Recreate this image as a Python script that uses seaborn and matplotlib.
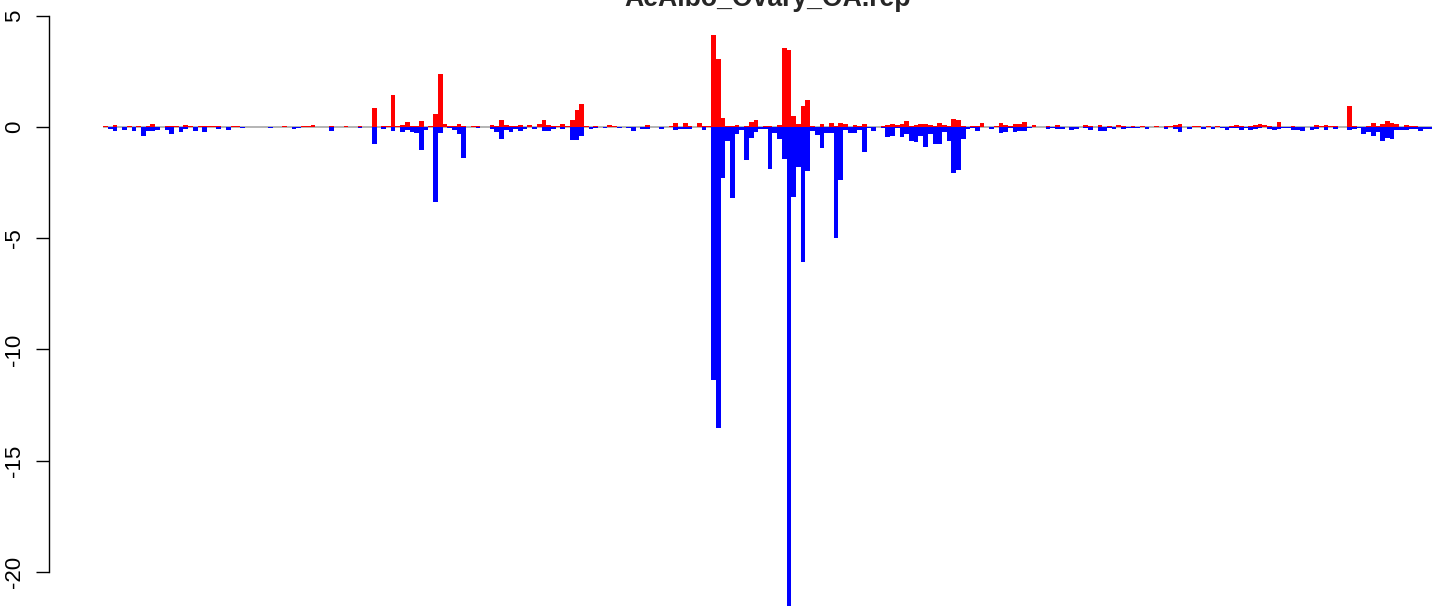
import numpy as np
import pandas as pd
import matplotlib
matplotlib.use("Agg")
import matplotlib.pyplot as plt
import seaborn as sns

# sense (red, plotted up) and antisense (blue, plotted down) per bin
sense = [
    0.03, 0, 0.09, 0, 0, 0.03, 0, 0.03, 0, 0.03,
    0.14, 0, 0, 0.03, 0.03, 0.03, 0, 0.09, 0.03, 0,
    0.03, 0.03, 0.03, 0.06, 0.06, 0, 0.02, 0.03, 0.03, 0,
    0, 0, 0.02, 0.02, 0, 0, 0, 0, 0.05, 0,
    0, 0.02, 0.03, 0.03, 0.08, 0, 0, 0, 0.05, 0,
    0, 0.05, 0, 0, 0.05, 0, 0, 0.85, 0, 0.03,
    0.03, 1.44, 0.03, 0.09, 0.22, 0.03, 0.05, 0.27, 0, 0.05,
    0.58, 2.38, 0.13, 0.03, 0.03, 0.13, 0.03, 0, 0.05, 0.05,
    0, 0, 0.07, 0.03, 0.31, 0.09, 0.05, 0.05, 0.09, 0,
    0.09, 0, 0.13, 0.31, 0.10, 0.03, 0.03, 0.14, 0.03, 0.31,
    0.76, 1.03, 0.03, 0.02, 0.03, 0.02, 0, 0.09, 0.03, 0,
    0, 0, 0.02, 0.02, 0, 0.09, 0, 0, 0, 0,
    0.03, 0.18, 0, 0.18, 0.03, 0, 0.18, 0.03, 0.03, 4.14,
    3.06, 0.40, 0.03, 0.03, 0.09, 0, 0.03, 0.22, 0.31, 0,
    0.03, 0.03, 0, 0.10, 3.54, 3.45, 0.50, 0.15, 0.96, 1.20,
    0.05, 0.02, 0.12, 0.02, 0.20, 0.05, 0.20, 0.15, 0.02, 0.07,
    0.03, 0.15, 0.02, 0, 0, 0.03, 0.09, 0.14, 0.09, 0.14,
    0.27, 0.05, 0.09, 0.14, 0.14, 0.09, 0.05, 0.18, 0.09, 0.05,
    0.36, 0.31, 0.05, 0, 0.03, 0.03, 0.18, 0, 0, 0.03,
    0.18, 0.09, 0.05, 0.14, 0.14, 0.22, 0, 0.09, 0, 0,
    0.03, 0, 0.09, 0, 0, 0, 0, 0, 0.09, 0.03,
    0.02, 0.09, 0, 0.04, 0, 0.09, 0.03, 0, 0.05, 0,
    0.05, 0, 0, 0.05, 0, 0.03, 0.03, 0.09, 0.14, 0,
    0, 0.03, 0.03, 0, 0.03, 0, 0.03, 0, 0, 0.05,
    0.09, 0.05, 0, 0.05, 0.09, 0.14, 0.09, 0.05, 0, 0.22,
    0, 0, 0.05, 0, 0, 0, 0, 0.09, 0.03, 0.09,
    0.05, 0.03, 0.02, 0, 0.94, 0.03, 0, 0, 0.03, 0.18,
    0.03, 0.14, 0.27, 0.18, 0.14, 0, 0.09, 0.03, 0.03, 0,
    0, 0,
]

antisense = [
    0, 0.07, 0.17, 0.02, 0.12, 0, 0.17, 0, 0.39, 0.17,
    0.17, 0.12, 0.02, 0.12, 0.30, 0, 0.21, 0.07, 0, 0.17,
    0, 0.21, 0, 0, 0.07, 0, 0.12, 0, 0, 0.03,
    0, 0, 0, 0, 0, 0.03, 0, 0, 0, 0,
    0.07, 0.03, 0, 0, 0, 0, 0, 0, 0.16, 0,
    0, 0, 0, 0, 0.03, 0, 0, 0.75, 0.02, 0.09,
    0, 0.16, 0, 0.21, 0.13, 0.21, 0.25, 1.03, 0.13, 0,
    3.37, 0.27, 0, 0.03, 0.13, 0.31, 1.39, 0, 0, 0.03,
    0, 0, 0.09, 0.22, 0.54, 0.13, 0.22, 0.07, 0.18, 0.07,
    0, 0.09, 0, 0.18, 0.18, 0.07, 0, 0.07, 0, 0.57,
    0.57, 0.39, 0, 0.07, 0.03, 0, 0.05, 0, 0, 0.05,
    0, 0.03, 0.16, 0, 0.07, 0.07, 0, 0, 0.08, 0,
    0, 0.13, 0.07, 0.07, 0.07, 0, 0, 0.13, 0, 11.38,
    13.54, 2.29, 0.63, 3.19, 0.31, 0.13, 1.48, 0.49, 0.22, 0.07,
    0.07, 1.89, 0.25, 0.56, 1.46, 21.6, 3.13, 1.82, 6.05, 2.00,
    0.20, 0.34, 0.96, 0.25, 0.27, 4.99, 2.40, 0.13, 0.27, 0.27,
    0.13, 1.13, 0.05, 0.20, 0, 0.05, 0.45, 0.39, 0.03, 0.45,
    0.30, 0.61, 0.66, 0.39, 0.88, 0.30, 0.75, 0.75, 0.21, 0.61,
    2.05, 1.92, 0.52, 0.07, 0.03, 0.16, 0, 0, 0.07, 0,
    0.25, 0.21, 0.03, 0.21, 0.16, 0.16, 0.03, 0, 0, 0,
    0.07, 0.03, 0.07, 0.07, 0, 0.12, 0.07, 0, 0.03, 0.12,
    0, 0.16, 0.16, 0.03, 0.07, 0, 0.07, 0.03, 0.03, 0.03,
    0, 0.07, 0, 0, 0, 0.07, 0, 0.07, 0.21, 0,
    0.07, 0, 0, 0.07, 0, 0.07, 0, 0.03, 0.12, 0.03,
    0.03, 0.12, 0.03, 0.12, 0.07, 0.03, 0, 0.07, 0.12, 0.07,
    0.03, 0.03, 0.12, 0.12, 0.16, 0, 0.12, 0.07, 0, 0.12,
    0, 0.07, 0, 0, 0.12, 0.07, 0.03, 0.30, 0.21, 0.39,
    0.21, 0.61, 0.48, 0.52, 0.12, 0.12, 0.12, 0.07, 0.07, 0.16,
    0.07, 0.07,
]

title = "AeAlbo_Ovary_OA.rep"
yticks = [5, 0, -5, -10, -15, -20]

n = len(sense)
df = pd.DataFrame({
    "bin": np.arange(n),
    "sense": sense,
    "antisense": -np.array(antisense),
})

sns.set_style("white")
plt.rcParams["font.family"] = ["Liberation Sans", "DejaVu Sans"]
plt.rcParams["axes.unicode_minus"] = False

W, H = 1441, 606
fig = plt.figure(figsize=(W / 100, H / 100), dpi=100)
left_px = 49
ax = fig.add_axes([left_px / W, 0, (W - left_px) / W, 1])

sns.barplot(data=df, x="bin", y="sense", color="#FF0000", saturation=1,
            width=1, linewidth=0, errorbar=None, antialiased=False, ax=ax)
sns.barplot(data=df, x="bin", y="antisense", color="#0000FF", saturation=1,
            width=1, linewidth=0, errorbar=None, antialiased=False, ax=ax)
ax.hlines(0, -0.5, n - 0.5, color="#a8a8a8", lw=1.2, zorder=0.5)

# pixel mapping: first bar starts at x=103.3 px, each bar ~4.712 px
bw = 4.712
x0 = 103.3
ax.set_xlim((left_px - x0) / bw - 0.5, (W - x0) / bw - 0.5)
ax.set_ylim(-(H - 127) / 22.24, 127 / 22.24)

ax.set_xticks([])
ax.set_xlabel("")
ax.set_ylabel("")
for s in ["top", "right", "bottom"]:
    ax.spines[s].set_visible(False)
ax.spines["left"].set_bounds(-20, 5)
ax.spines["left"].set_linewidth(1)
ax.spines["left"].set_color("black")

ax.set_yticks(yticks)
ax.set_yticklabels([str(t) for t in yticks], rotation=90, va="center")
ax.tick_params(axis="y", length=9.5, width=1, pad=8, labelsize=16,
               colors="black", left=True)
ax.patch.set_alpha(0)

fig.text(768 / W, 1 - 6 / H, title, ha="center", va="baseline",
         fontsize=19.2, fontweight="bold")

fig.savefig("out.png", dpi=100)
